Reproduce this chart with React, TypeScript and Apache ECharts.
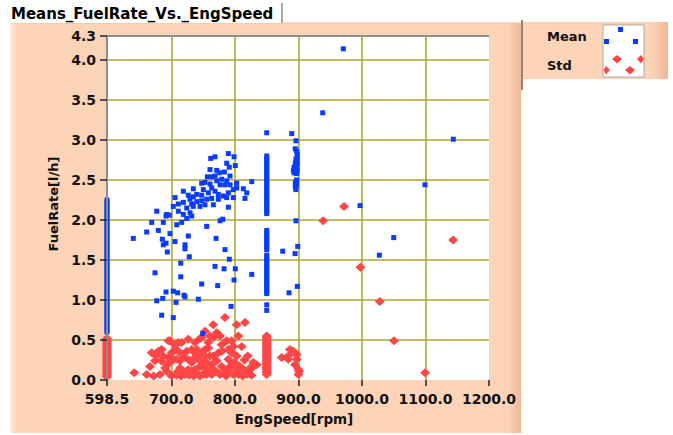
import React, { useEffect, useRef } from 'react';
import * as echarts from 'echarts';

// ---------- texts ----------
const chartTitle = 'Means_FuelRate_Vs._EngSpeed';
const xAxisName = 'EngSpeed[rpm]';
const yAxisName = 'FuelRate[l/h]';
const meanName = 'Mean';
const stdName = 'Std';

// ---------- axes ----------
const xMin = 598.5;
const xMax = 1200;
const yMin = 0;
const yMax = 4.3;
const xTickValues = [598.5, 700, 800, 900, 1000, 1100, 1200];
const yTickValues = [0, 0.5, 1.0, 1.5, 2.0, 2.5, 3.0, 3.5, 4.0, 4.3];
const xGridValues = [700, 800, 900, 1000, 1100];
const yGridValues = [0.5, 1.0, 1.5, 2.0, 2.5, 3.0, 3.5, 4.0];

// ---------- Mean (blue) ----------
// dense column at the lowest speed (598.5 rpm)
const meanMinSpeedRates = [
  0.60, 0.63, 0.66, 0.69, 0.72, 0.75, 0.78, 0.81, 0.84, 0.87, 0.90, 0.93, 0.96, 0.99, 1.02,
  1.05, 1.08, 1.11, 1.14, 1.17, 1.20, 1.23, 1.26, 1.29, 1.32, 1.35, 1.38, 1.41, 1.44, 1.47,
  1.50, 1.53, 1.56, 1.59, 1.62, 1.65, 1.68, 1.71, 1.74, 1.77, 1.80, 1.83, 1.86, 1.89, 1.92,
  1.95, 1.98, 2.01, 2.04, 2.07, 2.10, 2.13, 2.16, 2.19, 2.22, 2.25,
];
// column at 850 rpm
const mean850Rates = [
  2.08, 2.11, 2.14, 2.17, 2.20, 2.23, 2.26, 2.29, 2.32, 2.35, 2.38, 2.41, 2.44, 2.47, 2.50,
  2.53, 2.56, 2.59, 2.62, 2.65, 2.68, 2.71, 2.74, 2.77, 2.80, 1.63, 1.66, 1.69, 1.72, 1.75,
  1.78, 1.81, 1.84, 1.87, 1.08, 1.11, 1.14, 1.17, 1.20, 1.23, 1.26, 1.29, 1.32, 1.35, 1.38,
  1.41, 1.44, 1.47, 1.50, 1.53, 1.56, 0.94, 0.87, 3.09,
];
// cluster near 900 rpm
const mean900Points = [
  [895, 2.89], [897, 2.86], [898, 2.82], [898, 2.78], [896, 2.76], [898, 2.73], [895, 2.71],
  [898, 2.69], [893, 2.66], [897, 2.65], [892, 2.62], [898, 2.62], [893, 2.59], [897, 2.58],
  [897, 2.50], [895, 2.47], [897, 2.44], [895, 2.41], [896, 2.38],
];
// main cloud
const meanCloudPoints = [
  [789.6, 2.83], [761.8, 2.77], [768.6, 2.79], [787, 2.71], [798.5, 2.79], [791, 2.66], [800.5, 2.68],
  [760.7, 2.63], [771.3, 2.62], [775.4, 2.59], [783.2, 2.6], [792.2, 2.55], [756.5, 2.54], [763.4, 2.54],
  [768.6, 2.55], [752.8, 2.47], [747.6, 2.46], [760.7, 2.45], [771.3, 2.49], [779.1, 2.51], [787, 2.49],
  [776.5, 2.44], [784.3, 2.44], [792.2, 2.44], [802.7, 2.46], [826.4, 2.48], [734.4, 2.39], [718.7, 2.36],
  [750.2, 2.38], [763.4, 2.4], [768.6, 2.36], [758, 2.34], [747.6, 2.31], [739.8, 2.32], [726.5, 2.31],
  [734.4, 2.29], [729.2, 2.26], [773.8, 2.32], [781.6, 2.3], [789.6, 2.34], [797.4, 2.38], [802.7, 2.4],
  [813.2, 2.39], [818.5, 2.34], [815.8, 2.27], [797.4, 2.28], [787, 2.28], [773.8, 2.26], [763.4, 2.27],
  [755.5, 2.26], [747.6, 2.24], [739.8, 2.23], [731.9, 2.2], [734.4, 2.17], [718.7, 2.22], [710.8, 2.2],
  [702.9, 2.17], [705.6, 2.28], [745, 2.17], [765.9, 2.19], [789.6, 2.16], [752.8, 2.19], [724, 2.15],
  [718.7, 2.07], [710.8, 2.11], [729.2, 2.09], [731.9, 2.05], [724, 2.02], [676.8, 2.11], [692.5, 2.07],
  [691.4, 2.05], [696.6, 2.06], [687.2, 1.97], [668.9, 1.97], [708.3, 1.94], [716.1, 1.97], [755.5, 1.92],
  [776.5, 1.99], [780.7, 2.01], [661, 1.85], [679.3, 1.87], [697.7, 1.83], [726.5, 1.8], [770.2, 1.77],
  [639.9, 1.77], [685.6, 1.76], [687.2, 1.69], [691.4, 1.71], [705.6, 1.73], [693.5, 1.6], [721.3, 1.69],
  [721.3, 1.64], [784.3, 1.63],
];
const meanLowerPoints = [
  [728.1, 1.54], [714.6, 1.46], [674.1, 1.34], [714.6, 1.29], [768.6, 1.42], [782.8, 1.39], [791.1, 1.51],
  [800.5, 1.39], [798.5, 1.25], [826.4, 1.32], [747.6, 1.2], [772.8, 1.18], [691.4, 1.1], [702.9, 1.11],
  [709.8, 1.09], [719.8, 1.06], [721.3, 1.04], [686.2, 1.02], [676.8, 0.99], [707.2, 0.97], [742.3, 1.01],
  [793.8, 0.92], [684.6, 0.81], [702.9, 0.78], [749.2, 0.58],
];
const meanOutlierPoints = [
  [889.4, 3.08], [896.1, 2.99], [970.6, 4.14], [938.2, 3.34], [1143.8, 3.01], [1099.3, 2.44],
  [996.9, 2.18], [1050, 1.78], [1027.3, 1.56], [875.2, 1.61], [894.6, 1.58], [898.8, 1.67],
  [896.1, 1.99], [898.2, 1.17], [885.1, 1.09],
];

// ---------- Std (red) ----------
const stdMinSpeedRates = [
  0.04, 0.06, 0.08, 0.10, 0.12, 0.14, 0.16, 0.18, 0.20, 0.22, 0.24, 0.26, 0.28, 0.30,
  0.32, 0.34, 0.36, 0.38, 0.40, 0.42, 0.44, 0.46, 0.48, 0.50, 0.52,
];
const std850Rates = [
  0.07, 0.09, 0.11, 0.13, 0.15, 0.17, 0.19, 0.21, 0.23, 0.25, 0.27, 0.29, 0.31, 0.33,
  0.35, 0.37, 0.39, 0.41, 0.43, 0.45, 0.47, 0.49, 0.51, 0.53, 0.55,
];
const stdCloudPoints = [
  [641.5, 0.09], [661, 0.07], [668.9, 0.34], [674.1, 0.24], [666.2, 0.17], [684.6, 0.38], [687.2, 0.3],
  [692.5, 0.19], [697.7, 0.49], [705.6, 0.38], [710.8, 0.47], [702.9, 0.26], [713.5, 0.24], [721.3, 0.07],
  [726.5, 0.51], [731.9, 0.38], [737.1, 0.28], [745, 0.17], [747.6, 0.53], [752.8, 0.61], [760.7, 0.55],
  [765.9, 0.69], [771.3, 0.59], [776.5, 0.55], [779.1, 0.44], [784.3, 0.78], [789.5, 0.38], [794.9, 0.49],
  [802.7, 0.69], [805.3, 0.55], [815.8, 0.72], [810.6, 0.42], [802.7, 0.3], [794.9, 0.22], [779.1, 0.17],
  [763.4, 0.15], [752.8, 0.09], [742.3, 0.07], [731.9, 0.11], [789.5, 0.09], [805.3, 0.07], [818.5, 0.11],
  [826.4, 0.15], [834.3, 0.19], [765.9, 0.3], [758, 0.4], [773.8, 0.34], [679.3, 0.36], [695.1, 0.49],
  [705.6, 0.44], [716.1, 0.47], [737.1, 0.47], [745, 0.52], [700.4, 0.34], [710.8, 0.36], [724, 0.36],
  [734.4, 0.36], [697.7, 0.22], [708.3, 0.26], [721.3, 0.28], [731.9, 0.22], [742.3, 0.26], [752.8, 0.3],
  [713.5, 0.15], [726.5, 0.13], [737.1, 0.13], [752.8, 0.15], [763.4, 0.19], [682, 0.07], [692.5, 0.11],
  [755.5, 0.07], [763.4, 0.07], [765.9, 0.53], [758, 0.47], [752.8, 0.38], [787, 0.49], [797.4, 0.42],
  [794.9, 0.34], [779.1, 0.36], [760.7, 0.3], [771.3, 0.24], [755.5, 0.22], [789.6, 0.26], [794.9, 0.17],
  [763.4, 0.13], [802.7, 0.11], [813.2, 0.13], [823.7, 0.15], [828.9, 0.22], [750.2, 0.07], [776.5, 0.07],
  [797.4, 0.07], [818.5, 0.07], [672, 0.05], [700, 0.05], [708, 0.06], [786, 0.05], [812, 0.05], [826, 0.06],
  [690, 0.15], [695, 0.28], [717, 0.32], [728, 0.25], [740, 0.38], [745, 0.33], [748, 0.24], [735, 0.05],
  [715, 0.05], [728, 0.06], [745, 0.05], [790, 0.15], [800, 0.22], [808, 0.17], [815, 0.25], [820, 0.3],
  [784, 0.12], [770, 0.11], [757, 0.11], [684, 0.24], [676, 0.3], [718, 0.11], [709, 0.1],
];
const std900Points = [
  [873.6, 0.28], [884, 0.26], [886.7, 0.38], [894.6, 0.34], [897.2, 0.26], [894.6, 0.19], [899.8, 0.13],
  [891.9, 0.36], [900.9, 0.11], [884, 0.3], [897.2, 0.32], [900, 0.07],
];
const stdOutlierPoints = [
  [971.8, 2.17], [938.8, 1.99], [1143.5, 1.75], [997.6, 1.41], [1028, 0.98], [1050.6, 0.49], [1099.4, 0.09],
];

// ---------- styling ----------
const FONT = 'DejaVu Sans';
const PEACH = '#FDD4B8';
const BLUE = '#0A3BFF';
const RED = '#FF4545';
const GRID_COLOR = '#ABA634';

const meanData = [
  ...meanMinSpeedRates.map((r) => [xMin, r]),
  ...mean850Rates.map((r) => [850, r]),
  ...mean900Points,
  ...meanCloudPoints,
  ...meanLowerPoints,
  ...meanOutlierPoints,
];
const stdData = [
  ...stdMinSpeedRates.map((r) => [xMin, r]),
  ...std850Rates.map((r) => [850, r]),
  ...stdCloudPoints,
  ...std900Points,
  ...stdOutlierPoints,
];

const G = { left: 107, top: 36, width: 382, height: 344 };

function buildOption() {
  const labelStyle = { fontFamily: FONT, fontWeight: 'bold' as const, fontSize: 14, color: '#111' };
  return {
    animation: false,
    backgroundColor: '#ffffff',
    grid: { left: G.left, top: G.top, width: G.width, height: G.height, containLabel: false },
    xAxis: {
      type: 'value',
      min: xMin,
      max: xMax,
      z: 5,
      axisLine: { show: false },
      axisTick: { show: true, length: 6, customValues: xTickValues, lineStyle: { color: '#222', width: 1.5 } },
      axisLabel: {
        ...labelStyle,
        margin: 12,
        customValues: xTickValues,
        formatter: (v: number) => v.toFixed(1),
      },
      splitLine: { show: false },
    },
    yAxis: {
      type: 'value',
      min: yMin,
      max: yMax,
      z: 5,
      axisLine: { show: true, lineStyle: { color: '#8E8E8E', width: 2 } },
      axisTick: { show: true, length: 7, customValues: yTickValues, lineStyle: { color: '#222', width: 1.5 } },
      axisLabel: {
        ...labelStyle,
        margin: 11,
        customValues: yTickValues,
        formatter: (v: number) => v.toFixed(1),
      },
      splitLine: { show: false },
    },
    graphic: [
      // main panel
      { type: 'rect', z: -10, shape: { x: 10, y: 23, width: 511, height: 410 }, style: { fill: PEACH } },
      {
        type: 'rect', z: -9, shape: { x: 10, y: 23, width: 7, height: 410 },
        style: { fill: new echarts.graphic.LinearGradient(0, 0, 1, 0, [{ offset: 0, color: '#FFEBDA' }, { offset: 1, color: PEACH }]) },
      },
      {
        type: 'rect', z: -9, shape: { x: 508, y: 23, width: 13, height: 410 },
        style: { fill: new echarts.graphic.LinearGradient(0, 0, 1, 0, [{ offset: 0, color: PEACH }, { offset: 1, color: '#EDB898' }]) },
      },
      { type: 'line', z: -8, shape: { x1: 10, y1: 23, x2: 521, y2: 23 }, style: { stroke: '#E9C2A6', lineWidth: 1 } },
      { type: 'line', z: -8, shape: { x1: 522, y1: 20, x2: 522, y2: 90 }, style: { stroke: '#9A8478', lineWidth: 2 } },
      // plot area
      { type: 'rect', z: -7, shape: { x: G.left, y: G.top, width: G.width, height: G.height }, style: { fill: '#ffffff' } },
      // title box
      { type: 'rect', z: -6, shape: { x: 8, y: 3, width: 274, height: 20 }, style: { fill: '#ffffff' } },
      { type: 'line', z: -5, shape: { x1: 282, y1: 3, x2: 282, y2: 23 }, style: { stroke: '#8E8E8E', lineWidth: 1.5 } },
      {
        type: 'text', z: 20, x: 11, y: 14,
        style: { text: chartTitle, font: `bold 15px "${FONT}"`, fill: '#000', verticalAlign: 'middle' },
      },
      // axis names
      {
        type: 'text', z: 20, x: 294, y: 419,
        style: { text: xAxisName, font: `bold 13.5px "${FONT}"`, fill: '#111', align: 'center', verticalAlign: 'middle' },
      },
      {
        type: 'text', z: 20, x: 53, y: 204, rotation: Math.PI / 2,
        style: { text: yAxisName, font: `bold 13px "${FONT}"`, fill: '#111', align: 'center', verticalAlign: 'middle' },
      },
      // legend panel
      {
        type: 'rect', z: -6, shape: { x: 523, y: 22, width: 145, height: 57 },
        style: { fill: new echarts.graphic.LinearGradient(0, 0, 1, 0, [{ offset: 0, color: PEACH }, { offset: 0.88, color: PEACH }, { offset: 1, color: '#EDB898' }]) },
      },
      {
        type: 'text', z: 20, x: 547, y: 36,
        style: { text: meanName, font: `bold 13px "${FONT}"`, fill: '#111', verticalAlign: 'middle' },
      },
      {
        type: 'text', z: 20, x: 547, y: 65,
        style: { text: stdName, font: `bold 13px "${FONT}"`, fill: '#111', verticalAlign: 'middle' },
      },
      { type: 'rect', z: 10, shape: { x: 603, y: 25, width: 41, height: 52 }, style: { fill: '#ffffff', stroke: '#9a9a9a', lineWidth: 0.8 } },
      { type: 'rect', z: 11, shape: { x: 618, y: 27, width: 5, height: 5 }, style: { fill: BLUE } },
      { type: 'rect', z: 11, shape: { x: 604, y: 39, width: 5, height: 5 }, style: { fill: BLUE } },
      { type: 'rect', z: 11, shape: { x: 633, y: 39, width: 5, height: 5 }, style: { fill: BLUE } },
      { type: 'polygon', z: 11, shape: { points: [[617, 55], [622, 59], [617, 63.5], [612, 59]] }, style: { fill: RED } },
      { type: 'polygon', z: 11, shape: { points: [[641, 55], [644, 59], [641, 63.5], [637, 59]] }, style: { fill: RED } },
      { type: 'polygon', z: 11, shape: { points: [[606, 66], [610, 70], [606, 74.5], [603.5, 70]] }, style: { fill: RED } },
      { type: 'polygon', z: 11, shape: { points: [[630, 66], [635, 70], [630, 74.5], [625, 70]] }, style: { fill: RED } },
    ],
    series: [
      {
        type: 'scatter',
        data: [],
        silent: true,
        z: 1,
        markLine: {
          silent: true,
          z: 1,
          symbol: ['none', 'none'],
          label: { show: false },
          animation: false,
          data: [
            ...xGridValues.map((v) => ({ xAxis: v, lineStyle: { color: GRID_COLOR, width: 1.6, type: 'solid' } })),
            ...yGridValues.map((v) => ({ yAxis: v, lineStyle: { color: GRID_COLOR, width: 1.6, type: 'solid' } })),
            { yAxis: yMax, lineStyle: { color: '#8E8E8E', width: 2, type: 'solid' } },
          ],
        },
      },
      {
        name: stdName,
        type: 'scatter',
        symbol: 'diamond',
        symbolSize: [10, 9],
        clip: false,
        z: 3,
        itemStyle: { color: RED, opacity: 1 },
        data: stdData,
      },
      {
        name: meanName,
        type: 'scatter',
        symbol: 'rect',
        symbolSize: 5,
        clip: false,
        z: 4,
        itemStyle: { color: BLUE, opacity: 1 },
        data: meanData,
      },
    ],
  };
}

export default function App() {
  const ref = useRef<HTMLDivElement>(null);
  useEffect(() => {
    document.body.style.margin = '0';
    const chart = echarts.init(ref.current as HTMLDivElement, null, { renderer: 'svg' });
    chart.setOption(buildOption() as any);
    return () => chart.dispose();
  }, []);
  return <div ref={ref} style={{ width: 673, height: 435 }} />;
}
